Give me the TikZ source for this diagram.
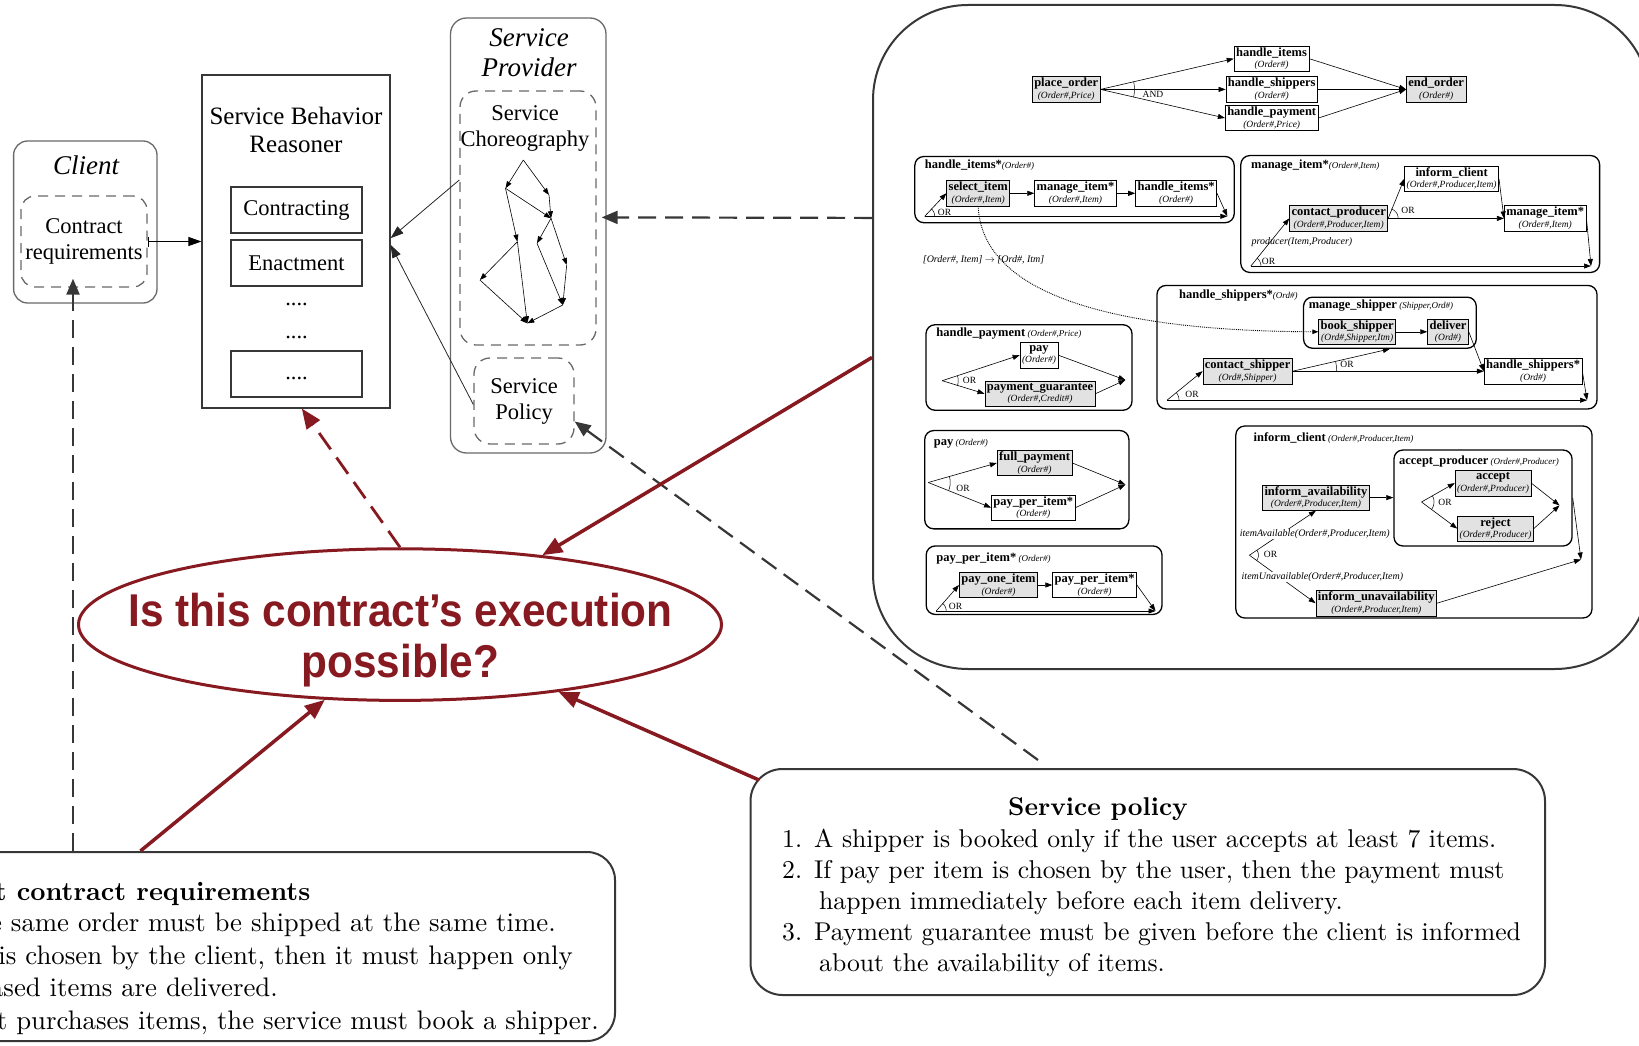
\documentclass[tikz,border=0pt]{standalone}
\usepackage{fontspec}
\usetikzlibrary{arrows.meta,shapes.geometric,calc}
\newfontfamily\tnr{Liberation Serif}
\newfontfamily\sansq[FakeStretch=0.92]{Liberation Sans}
\newfontfamily\lmten[Extension=.otf,UprightFont=*-regular,BoldFont=*-bold]{lmroman10}
\definecolor{qred}{RGB}{135,25,32}
\definecolor{dgray}{RGB}{55,55,55}
\definecolor{mgray}{RGB}{105,105,105}
\definecolor{actfill}{RGB}{226,226,226}

% activity label: bold name over italic parameters
\newcommand\actl[2]{{\fontsize{12.5}{11}\selectfont\bfseries #1}\\{\fontsize{9.5}{10}\selectfont\itshape (#2)}}
% container title: bold name followed by italic parameters
\newcommand\ctl[2]{{\fontsize{12.5}{12}\selectfont\bfseries #1}{\fontsize{9}{10}\selectfont\itshape #2}}
% small choice arc around a branching point
\newcommand\orarc[4]{\draw[line width=0.5pt, shift={(#1)}] plot[domain=#2:#3, samples=16] ({#4*cos(\x)},{#4*sin(\x)});}

\begin{document}
\begin{tikzpicture}[x=1pt, y=-1pt,
  grayrbox/.style={draw=mgray, line width=1.3pt, rounded corners=14pt, inner sep=0pt},
  dashrbox/.style={grayrbox, dash pattern=on 10pt off 7pt},
  sbox/.style={draw=dgray, line width=1.1pt, inner sep=0pt},
  lbl/.style={inner sep=0pt, align=center, font=\tnr\fontsize{22.5}{26}\selectfont},
  ttl/.style={inner sep=0pt, align=center, font=\tnr\itshape\fontsize{27}{30}\selectfont},
  thinarrow/.style={line width=0.8pt, draw=black!85, -{Triangle[length=13pt,width=9pt]}},
  chorarrow/.style={line width=0.6pt, -{Triangle[length=7pt,width=5pt]}},
  graydash/.style={draw=dgray, line width=2.2pt, dash pattern=on 18pt off 9pt, -{Triangle[length=16pt,width=13pt]}},
  redarrow/.style={draw=qred, line width=3.5pt, -{Triangle[length=20pt,width=16pt]}},
  reddash/.style={redarrow, line width=2.8pt, dash pattern=on 20pt off 10pt},
  act/.style={draw, line width=0.7pt, fill=white, inner xsep=2pt, inner ysep=0.5pt, minimum height=25.5pt, align=center, font=\tnr\fontsize{12}{11.5}\selectfont},
  actg/.style={act, fill=actfill},
  cont/.style={draw, line width=1.3pt, rounded corners=9pt, inner sep=0pt},
  ctitle/.style={anchor=west, inner sep=0pt, font=\tnr},
  flow/.style={line width=0.6pt, -{Triangle[length=7pt,width=5pt]}},
  orlab/.style={inner sep=0pt, font=\tnr\fontsize{9.5}{10}\selectfont},
  itlab/.style={inner sep=0.5pt, font=\tnr\itshape\fontsize{10}{10}\selectfont},
  frag/.style={inner sep=0pt, font=\lmten\fontsize{26.8}{32}\selectfont}]

\useasboundingbox (0,0) rectangle (1639,1046);
\clip (0,0) rectangle (1639,1046);

% ---------------- client ----------------
\node[grayrbox, minimum width=143.4pt, minimum height=162pt] (client) at (85.3,222) {};
\node[ttl] (clientt) at (86,165) {Client};
\node[dashrbox, lbl, minimum width=126pt, minimum height=91pt] (crq) at (84,241.5) {Contract\\requirements};

% ---------------- reasoner ----------------
\node[sbox, minimum width=188pt, minimum height=333pt] (sbr) at (296,241.5) {};
\node[lbl, font=\tnr\fontsize{25}{28}\selectfont] (sbrt) at (296,130) {Service Behavior\\Reasoner};
\node[sbox, lbl, minimum width=131pt, minimum height=46pt] (ctr) at (296.5,210) {Contracting};
\node[sbox, lbl, minimum width=131pt, minimum height=46pt] (ena) at (296.5,263) {Enactment};
\node[lbl] (dots1) at (296.5,304) {....};
\node[lbl] (dots2) at (296.5,337) {....};
\node[sbox, lbl, minimum width=131pt, minimum height=46pt] (more) at (296.5,374) {\vphantom{Ag}....};

% ---------------- provider ----------------
\node[grayrbox, rounded corners=16pt, minimum width=155.5pt, minimum height=435pt] (sp) at (528.25,235.5) {};
\node[ttl] (spt) at (529,53) {Service\\Provider};
\node[dashrbox, rounded corners=16pt, minimum width=136pt, minimum height=254pt] (chor) at (528,218) {};
\node[lbl] (chort) at (525,128) {Service\\Choreography};
\node[dashrbox, lbl, rounded corners=16pt, minimum width=100pt, minimum height=86pt] (spol) at (524,401) {Service\\Policy};

% choreography sketch
\coordinate (g1) at (523.3,160);
\coordinate (g2) at (505.5,188.3);
\coordinate (g3) at (549,195);
\coordinate (g4) at (551,218.3);
\coordinate (g5) at (517.4,241.7);
\coordinate (g6) at (537,243.3);
\coordinate (g7) at (566.7,265);
\coordinate (g8) at (479.9,280);
\coordinate (g9) at (562.8,305);
\coordinate (g10) at (527.3,323.3);
\foreach \a/\b in {g1/g2, g1/g3, g2/g4, g3/g4, g2/g5, g4/g6, g4/g7, g5/g8, g6/g9, g7/g9, g8/g10, g5/g10, g9/g10}
  \draw[chorarrow] (\a) -- (\b);

% ---------------- orchestration panel ----------------
\node[draw=dgray, line width=2pt, rounded corners=95pt, minimum width=777pt, minimum height=664pt, inner sep=0pt] (rp) at (1261.5,337) {};

% top level
\node[actg] (po) at (1066.2,89.4) {\actl{place\_order}{Order\#,Price}};
\node[act] (hi) at (1271.5,58.7) {\actl{handle\_items}{Order\#}};
\node[act] (hs) at (1271.7,89.4) {\actl{handle\_shippers}{Order\#}};
\node[act] (hp) at (1271.7,118) {\actl{handle\_payment}{Order\#,Price}};
\node[actg] (eo) at (1436.2,89.4) {\actl{end\_order}{Order\#}};
\draw[flow] (po.east) -- (hi.west);
\draw[flow] (po.east) -- (hs.west);
\draw[flow] (po.east) -- (hp.west);
\draw[flow] (hi.east) -- (eo.west);
\draw[flow] (hs.east) -- (eo.west);
\draw[flow] (hp.east) -- (eo.west);
\orarc{po.east}{-13}{13}{34}
\node[orlab] (andl) at (1153,94.6) {AND};

% handle_items*
\node[cont, minimum width=319.4pt, minimum height=66.2pt] (hic) at (1074.5,189.6) {};
\node[ctitle] (hict) at (924.7,164.7) {\ctl{handle\_items*}{(Order\#)}};
\node[actg] (si) at (978.2,193.3) {\actl{select\_item}{Order\#,Item}};
\node[act] (mi1) at (1075.5,193.3) {\actl{manage\_item*}{Order\#,Item}};
\node[act] (hi2) at (1176.1,193.3) {\actl{handle\_items*}{Order\#}};
\coordinate (hiL) at (924.7,216.3);
\coordinate (hiR) at (1227.3,216.3);
\draw[flow] (si) -- (mi1);
\draw[flow] (mi1) -- (hi2);
\draw[flow] (hiL) -- (hiR);
\draw[flow] (hiL) -- (si.west);
\draw[flow] (hi2.east) -- (hiR);
\orarc{hiL}{-49}{0}{10}
\node[orlab] at (944.5,212) {OR};

% manage_item*
\node[cont, minimum width=358.8pt, minimum height=116.9pt] (mic) at (1420.2,214) {};
\node[ctitle] (mict) at (1250.9,165.6) {\ctl{manage\_item*}{(Order\#,Item)}};
\node[act] (ic) at (1451.6,178.8) {\actl{inform\_client}{Order\#,Producer,Item}};
\node[actg] (cp) at (1338.7,218.4) {\actl{contact\_producer}{Order\#,Producer,Item}};
\node[act] (mi2) at (1545.2,218.4) {\actl{manage\_item*}{Order\#,Item}};
\coordinate (miL) at (1250.9,266);
\coordinate (miR) at (1591,266);
\draw[flow] (cp.east) -- (ic.west);
\draw[flow] (cp.east) -- (mi2.west);
\draw[flow] (ic.east) -- (mi2.west);
\draw[flow] (miL) -- (miR);
\draw[flow] (miL) -- (cp.west);
\draw[flow] (mi2.east) -- (miR);
\orarc{cp.east}{-72}{0}{10}
\node[orlab] at (1408,210.6) {OR};
\orarc{miL}{-52}{0}{10}
\node[orlab] at (1268.5,261) {OR};
\node[itlab, anchor=west] (prodl) at (1250.9,242.2) {producer(Item,Producer)};

\node[itlab] (mapl) at (983.6,259.5) {[Order\#, Item] $\rightarrow$ [Ord\#, Itm]};

% handle_shippers*
\node[cont, minimum width=440pt, minimum height=123.5pt] (hsc) at (1377,347.2) {};
\node[ctitle] (hsct) at (1179,295.5) {\ctl{handle\_shippers*}{(Ord\#)}};
\node[cont, minimum width=172.7pt, minimum height=51.1pt] (msc) at (1389.9,322.7) {};
\node[ctitle] (msct) at (1308.6,305.4) {\ctl{manage\_shipper}{~(Shipper,Ord\#)}};
\node[actg] (bs) at (1357.2,331.8) {\actl{book\_shipper}{Ord\#,Shipper,Itm}};
\node[actg] (dl) at (1448,331.8) {\actl{deliver}{Ord\#}};
\node[actg] (cs) at (1247.6,371.2) {\actl{contact\_shipper}{Ord\#,Shipper}};
\node[act] (hs2) at (1533.1,371.2) {\actl{handle\_shippers*}{Ord\#}};
\coordinate (hsL) at (1167,400.2);
\coordinate (hsR) at (1587,400.2);
\draw[flow] (bs) -- (dl);
\draw[flow] (dl.east) -- (hs2.west);
\draw[flow] (cs.east) -- (msc.south);
\draw[flow] (cs.east) -- (hs2.west);
\draw[flow] (hsL) -- (hsR);
\draw[flow] (hsL) -- (cs.west);
\draw[flow] (hs2.east) -- (hsR);
\orarc{cs.east}{-13}{0}{44}
\node[orlab] at (1347,364.7) {OR};
\orarc{hsL}{-39}{0}{12}
\node[orlab] at (1192,394.6) {OR};

% data mapping between select_item and book_shipper
\draw[line width=0.9pt, densely dotted, -{Triangle[length=6pt,width=4.5pt]}] (si.south) .. controls (982,290) and (1100,331) .. (bs.west);

% handle_payment
\node[cont, minimum width=206pt, minimum height=85.5pt] (hpc) at (1029,367.5) {};
\node[ctitle] (hpct) at (936.2,333.5) {\ctl{handle\_payment}{~(Order\#,Price)}};
\node[act] (pay1) at (1039,355.2) {\actl{pay}{Order\#}};
\node[actg] (pg) at (1040,393.7) {\actl{payment\_guarantee}{Order\#,Credit\#}};
\coordinate (hpS) at (942.2,380.7);
\coordinate (hpE) at (1125.4,380);
\draw[flow] (hpS) -- (pay1.west);
\draw[flow] (hpS) -- (pg.west);
\draw[flow] (pay1.east) -- (hpE);
\draw[flow] (pg.east) -- (hpE);
\orarc{hpS}{-18}{18}{16}
\node[orlab] at (969.5,380.7) {OR};

% pay
\node[cont, minimum width=204.2pt, minimum height=98.3pt] (payc) at (1026.8,479.7) {};
\node[ctitle] (payct) at (933.7,443.5) {\ctl{pay}{~(Order\#)}};
\node[actg] (fp) at (1034.6,463) {\actl{full\_payment}{Order\#}};
\node[act] (ppi1) at (1033.3,507.6) {\actl{pay\_per\_item*}{Order\#}};
\coordinate (payS) at (928.2,482.5);
\coordinate (payE) at (1125.4,484.6);
\draw[flow] (payS) -- (fp.west);
\draw[flow] (payS) -- (ppi1.west);
\draw[flow] (fp.east) -- (payE);
\draw[flow] (ppi1.east) -- (payE);
\orarc{payS}{-16}{21}{22}
\node[orlab] at (963,488) {OR};

% pay_per_item*
\node[cont, minimum width=235.8pt, minimum height=68.5pt] (pppc) at (1044.1,580.2) {};
\node[ctitle] (pppct) at (936.2,558.2) {\ctl{pay\_per\_item*}{~(Order\#)}};
\node[actg] (poi) at (998.5,585) {\actl{pay\_one\_item}{Order\#}};
\node[act] (ppi2) at (1094.6,585) {\actl{pay\_per\_item*}{Order\#}};
\coordinate (ppL) at (936.2,611);
\coordinate (ppR) at (1155.5,611);
\draw[flow] (poi) -- (ppi2);
\draw[flow] (ppL) -- (ppR);
\draw[flow] (ppL) -- (poi.west);
\draw[flow] (ppi2.east) -- (ppR);
\orarc{ppL}{-50}{0}{10}
\node[orlab] at (955.5,606) {OR};

% inform_client
\node[cont, minimum width=356.2pt, minimum height=192pt] (icc) at (1413.9,522) {};
\node[ctitle] (icct) at (1253.4,438) {\ctl{inform\_client}{~(Order\#,Producer,Item)}};
\node[cont, minimum width=178.1pt, minimum height=96pt] (apc) at (1483,498) {};
\node[ctitle] (apct) at (1398.9,461.3) {\ctl{accept\_producer}{~(Order\#,Producer)}};
\node[actg] (acc) at (1493,483.1) {\actl{accept}{Order\#,Producer}};
\node[actg] (rej) at (1495.5,528.6) {\actl{reject}{Order\#,Producer}};
\coordinate (apS) at (1421.5,502);
\coordinate (apE) at (1559.5,505.4);
\draw[flow] (apS) -- (acc.west);
\draw[flow] (apS) -- (rej.west);
\draw[flow] (acc.east) -- (apE);
\draw[flow] (rej.east) -- (apE);
\orarc{apS}{-30}{37}{12.5}
\node[orlab] at (1445,502) {OR};
\node[actg] (ia) at (1315.9,497.6) {\actl{inform\_availability}{Order\#,Producer,Item}};
\node[actg] (iu) at (1376.3,603.2) {\actl{inform\_unavailability}{Order\#,Producer,Item}};
\coordinate (icS) at (1249.4,555.2);
\coordinate (icE) at (1581,559.5);
\draw[flow] (ia.east) -- (apc.west |- ia.east);
\draw[flow] (icS) -- (ia.south);
\draw[flow] (icS) -- (iu.west);
\draw[flow] (apc.east) -- (icE);
\draw[flow] (iu.east) -- (icE);
\orarc{icS}{-34}{36}{9}
\node[orlab] at (1270.5,554.4) {OR};
\node[itlab, fill=white] (avl) at (1314.8,534.4) {itemAvailable(Order\#,Producer,Item)};
\node[itlab, fill=white] (unavl) at (1322.4,577) {itemUnavailable(Order\#,Producer,Item)};

% ---------------- question ----------------
\node[draw=qred, line width=3pt, ellipse, minimum width=643pt, minimum height=151.6pt, inner sep=0pt] (ell) at (400,624.6) {};
\node[inner sep=0pt, align=center, text=qred, font=\sansq\bfseries\fontsize{46}{51}\selectfont] (qtxt) at (400.5,640.5) {Is this contract’s execution\\possible?};

% ---------------- requirement boxes ----------------
\node[draw=dgray, line width=2pt, rounded corners=28pt, minimum width=655pt, minimum height=189pt, inner sep=0pt] (ccr) at (287.5,946.5) {};
\node[frag, anchor=base east, font=\lmten\bfseries\fontsize{26.5}{32}\selectfont] (ccr1) at (310.5,900) {t contract requirements};
\node[frag, anchor=base east] (ccr2) at (556,931.5) {e same order must be shipped at the same time.};
\node[frag, anchor=base east] (ccr3) at (573,964) {is chosen by the client, then it must happen only};
\node[frag, anchor=base east] (ccr4) at (278,996.5) {ased items are delivered.};
\node[frag, anchor=base east] (ccr5) at (599,1029) {t purchases items, the service must book a shipper.};

\node[draw=dgray, line width=2pt, rounded corners=32pt, minimum width=794.5pt, minimum height=226pt, inner sep=0pt] (spb) at (1147.75,882) {};
\node[anchor=base, inner sep=0pt, font=\lmten\bfseries\fontsize{25.7}{31}\selectfont] (spbt) at (1098,815) {Service policy};
\node[anchor=base west, inner sep=0pt, font=\lmten\fontsize{25.7}{31}\selectfont] (spbl) at (782,847) {%
  \begin{tabular}[t]{@{}l@{\hspace{12pt}}l@{}}
  1. & A shipper is booked only if the user accepts at least 7 items.\\
  2. & If pay per item is chosen by the user, then the payment must\\
     & \hspace{5pt}happen immediately before each item delivery.\\
  3. & Payment guarantee must be given before the client is informed\\
     & \hspace{5pt}about the availability of items.
  \end{tabular}};
\coordinate (spA) at (759,780);
\coordinate (spB) at (1038,760);

% ---------------- connectors ----------------
\draw[line width=0.8pt, {Bar[width=10pt]}-{Triangle[length=13pt,width=9pt]}] (crq.east) -- (sbr.west |- crq.east);
\draw[thinarrow] (chor.151.9) -- (sbr.2.7);
\draw[thinarrow] (spol.184.6) -- (sbr.-2.1);
\draw[graydash, shorten >=-5pt] (rp.163.5) -- (sp.13.4);
\draw[graydash] (spB) -- (spol.-22);
\draw[graydash, shorten >=-9pt] (ccr.156.5) -- (ccr.156.5 |- crq.south);
\draw[redarrow] (rp.183.5) -- (ell.26);
\draw[reddash] (ell.north) -- (sbr.-88);
\draw[redarrow] (ccr.147.5) -- (ell.-135);
\draw[redarrow] (spA) -- (ell.-23);
\end{tikzpicture}
\end{document}
